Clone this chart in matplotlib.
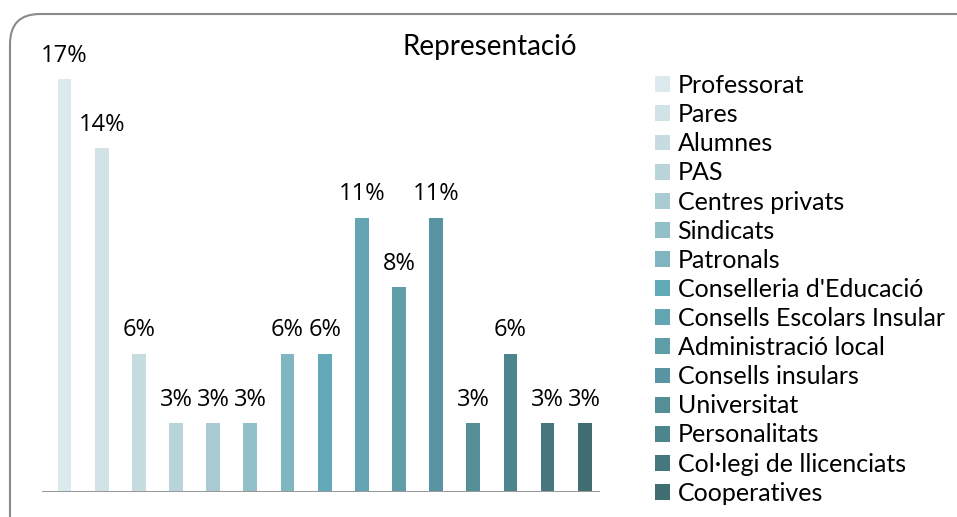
import matplotlib
matplotlib.use("Agg")
import matplotlib.pyplot as plt
from matplotlib.patches import FancyBboxPatch
from matplotlib.transforms import IdentityTransform

# ---------------------------------------------------------------------------
# Dades
# ---------------------------------------------------------------------------
categories = [
    "Professorat", "Pares", "Alumnes", "PAS", "Centres privats", "Sindicats",
    "Patronals", "Conselleria d'Educació", "Consells Escolars Insular",
    "Administració local", "Consells insulars", "Universitat",
    "Personalitats", "Col·legi de llicenciats", "Cooperatives",
]
values = [16.7, 13.9, 5.6, 2.8, 2.8, 2.8, 5.6, 5.6, 11.1, 8.3, 11.1, 2.8, 5.6, 2.8, 2.8]
colors = [
    "#dce9ee", "#d2e3e7", "#c6dce1", "#bad5da", "#a9cbd1", "#91c0c8",
    "#7fb6c1", "#62aab8", "#63a5b2", "#5f9ea9", "#5894a1", "#548f98",
    "#4d858e", "#46777f", "#3f6d72",
]
title = "Representació"

# ---------------------------------------------------------------------------
# Dibuix
# ---------------------------------------------------------------------------
W, H = 957, 517
fig = plt.figure(figsize=(W / 100, H / 100), dpi=100)

# marc arrodonit (en píxels)
frame = FancyBboxPatch(
    (10, -40), 990, H - 14 + 40,
    boxstyle="round,pad=0,rounding_size=30",
    transform=IdentityTransform(),
    facecolor="white", edgecolor="#8a8a8a", linewidth=1.5, zorder=0,
)
fig.add_artist(frame)

ax_left, ax_right = 20 / W, 620 / W
ax_bottom = 1 - 492 / H
ax_top = 1 - 47 / H
ax = fig.add_axes([ax_left, ax_bottom, ax_right - ax_left, ax_top - ax_bottom])
ax.set_facecolor("none")

x = list(range(len(values)))
bars = ax.bar(x, values, width=0.37, color=colors, zorder=2)
for b, lab in zip(bars, categories):
    b.set_label(lab)

for xi, v in zip(x, values):
    ax.annotate(f"{v:.0f}%", xy=(xi, v), xytext=(0, 8), textcoords="offset points",
                ha="center", va="bottom", fontsize=17, family="Open Sans",
                color="black")

ax.set_xlim(-1.2, 14.95)
ax.set_ylim(0, 18)
ax.axhline(0, xmin=(-0.58 + 1.2) / 16.15, xmax=(14.35 + 1.2) / 16.15,
           color="#999999", lw=2.2, zorder=3)
for s in ax.spines.values():
    s.set_visible(False)
ax.set_xticks([])
ax.set_yticks([])

fig.text(490 / W, 1 - 47 / H, title, ha="center", va="center",
         fontsize=20, family="Lato", color="black")

fig.legend(
    handles=list(bars), labels=categories,
    loc="upper left", bbox_to_anchor=(655 / W, 1 - 74 / H),
    frameon=False, prop={"family": "Lato", "size": 18},
    handlelength=0.6, handleheight=0.6, handletextpad=0.3,
    labelspacing=0.245, borderaxespad=0, borderpad=0,
)

fig.savefig("out.png", dpi=100)
